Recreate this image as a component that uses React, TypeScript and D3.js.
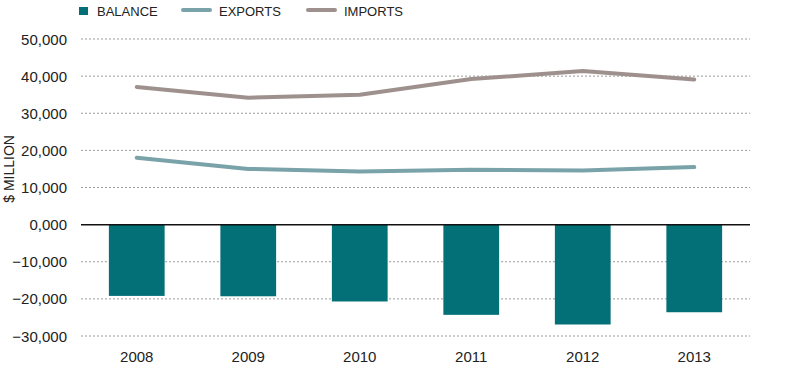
import { useMemo } from "react";
import * as d3 from "d3";

const WIDTH = 791;
const HEIGHT = 384;
const MARGIN = { top: 39, right: 41, bottom: 48, left: 81 };
const BAR_PADDING = 0.5;

const FONT = "'Liberation Sans', Arial, sans-serif";
const BALANCE_COLOR = "#036f77";
const EXPORTS_COLOR = "#79a3a8";
const IMPORTS_COLOR = "#9e918d";

// years on the x axis
const years = ["2008", "2009", "2010", "2011", "2012", "2013"];
// $ million
const balance = [-19200, -19300, -20700, -24300, -26900, -23600];
const exportsValues = [18000, 15000, 14300, 14800, 14600, 15500];
const importsValues = [37100, 34200, 35000, 39200, 41400, 39100];
const yTicks = [50000, 40000, 30000, 20000, 10000, 0, -10000, -20000, -30000];

// the source writes zero as "0,000"
const formatTick = (v: number) => (v === 0 ? "0,000" : d3.format(",")(v));

export default function App() {
  const boundsWidth = WIDTH - MARGIN.left - MARGIN.right;
  const boundsHeight = HEIGHT - MARGIN.top - MARGIN.bottom;

  const xScale = useMemo(
    () =>
      d3
        .scaleBand()
        .domain(years)
        .range([0, boundsWidth])
        .paddingInner(BAR_PADDING)
        .paddingOuter(BAR_PADDING / 2),
    [boundsWidth]
  );
  const yScale = useMemo(
    () => d3.scaleLinear().domain([-30000, 50000]).range([boundsHeight, 0]),
    [boundsHeight]
  );

  const cx = (year: string) => (xScale(year) ?? 0) + xScale.bandwidth() / 2;

  const line = d3
    .line<number>()
    .x((_, i) => cx(years[i]))
    .y((d) => yScale(d));

  // dotted grid plus tick labels
  const grid = yTicks.map((v) => (
    <g key={v}>
      {v !== 0 && (
        <line
          x1={0}
          x2={boundsWidth}
          y1={yScale(v)}
          y2={yScale(v)}
          stroke="#9a9a9a"
          strokeWidth={1}
          strokeDasharray="2,2"
        />
      )}
      <text
        x={-14}
        y={yScale(v)}
        textAnchor="end"
        dominantBaseline="central"
        fontSize={15}
        fill="#222"
      >
        {formatTick(v)}
      </text>
    </g>
  ));

  const bars = balance.map((d, i) => (
    <rect
      key={years[i]}
      x={xScale(years[i])}
      y={yScale(0)}
      width={xScale.bandwidth()}
      height={yScale(d) - yScale(0)}
      fill={BALANCE_COLOR}
    />
  ));

  const xLabels = years.map((y) => (
    <text
      key={y}
      x={cx(y)}
      y={boundsHeight + 26}
      textAnchor="middle"
      fontSize={15}
      fill="#222"
    >
      {y}
    </text>
  ));

  return (
    <div style={{ position: "absolute", left: 0, top: 0 }}>
      <svg width={WIDTH} height={HEIGHT} fontFamily={FONT} style={{ display: "block" }}>
        {/* legend */}
        <g fontSize={13} fill="#222">
          <rect x={79} y={7} width={9} height={8} fill={BALANCE_COLOR} />
          <text x={97} y={16}>BALANCE</text>
          <line x1={183} x2={210} y1={10} y2={10} stroke={EXPORTS_COLOR} strokeWidth={4} strokeLinecap="round" />
          <text x={219} y={16}>EXPORTS</text>
          <line x1={308} x2={335} y1={10} y2={10} stroke={IMPORTS_COLOR} strokeWidth={4} strokeLinecap="round" />
          <text x={344} y={16}>IMPORTS</text>
        </g>

        <text
          transform={`translate(14, ${MARGIN.top + yScale(15000)}) rotate(-90)`}
          textAnchor="middle"
          fontSize={14}
          fill="#222"
        >
          $ MILLION
        </text>

        <g transform={`translate(${MARGIN.left},${MARGIN.top})`}>
          {grid}
          {bars}
          <line x1={0} x2={boundsWidth} y1={yScale(0)} y2={yScale(0)} stroke="#111" strokeWidth={1.5} />
          <path d={line(importsValues) ?? ""} fill="none" stroke={IMPORTS_COLOR} strokeWidth={4} strokeLinecap="round" strokeLinejoin="round" />
          <path d={line(exportsValues) ?? ""} fill="none" stroke={EXPORTS_COLOR} strokeWidth={4} strokeLinecap="round" strokeLinejoin="round" />
          {xLabels}
        </g>
      </svg>
    </div>
  );
}
